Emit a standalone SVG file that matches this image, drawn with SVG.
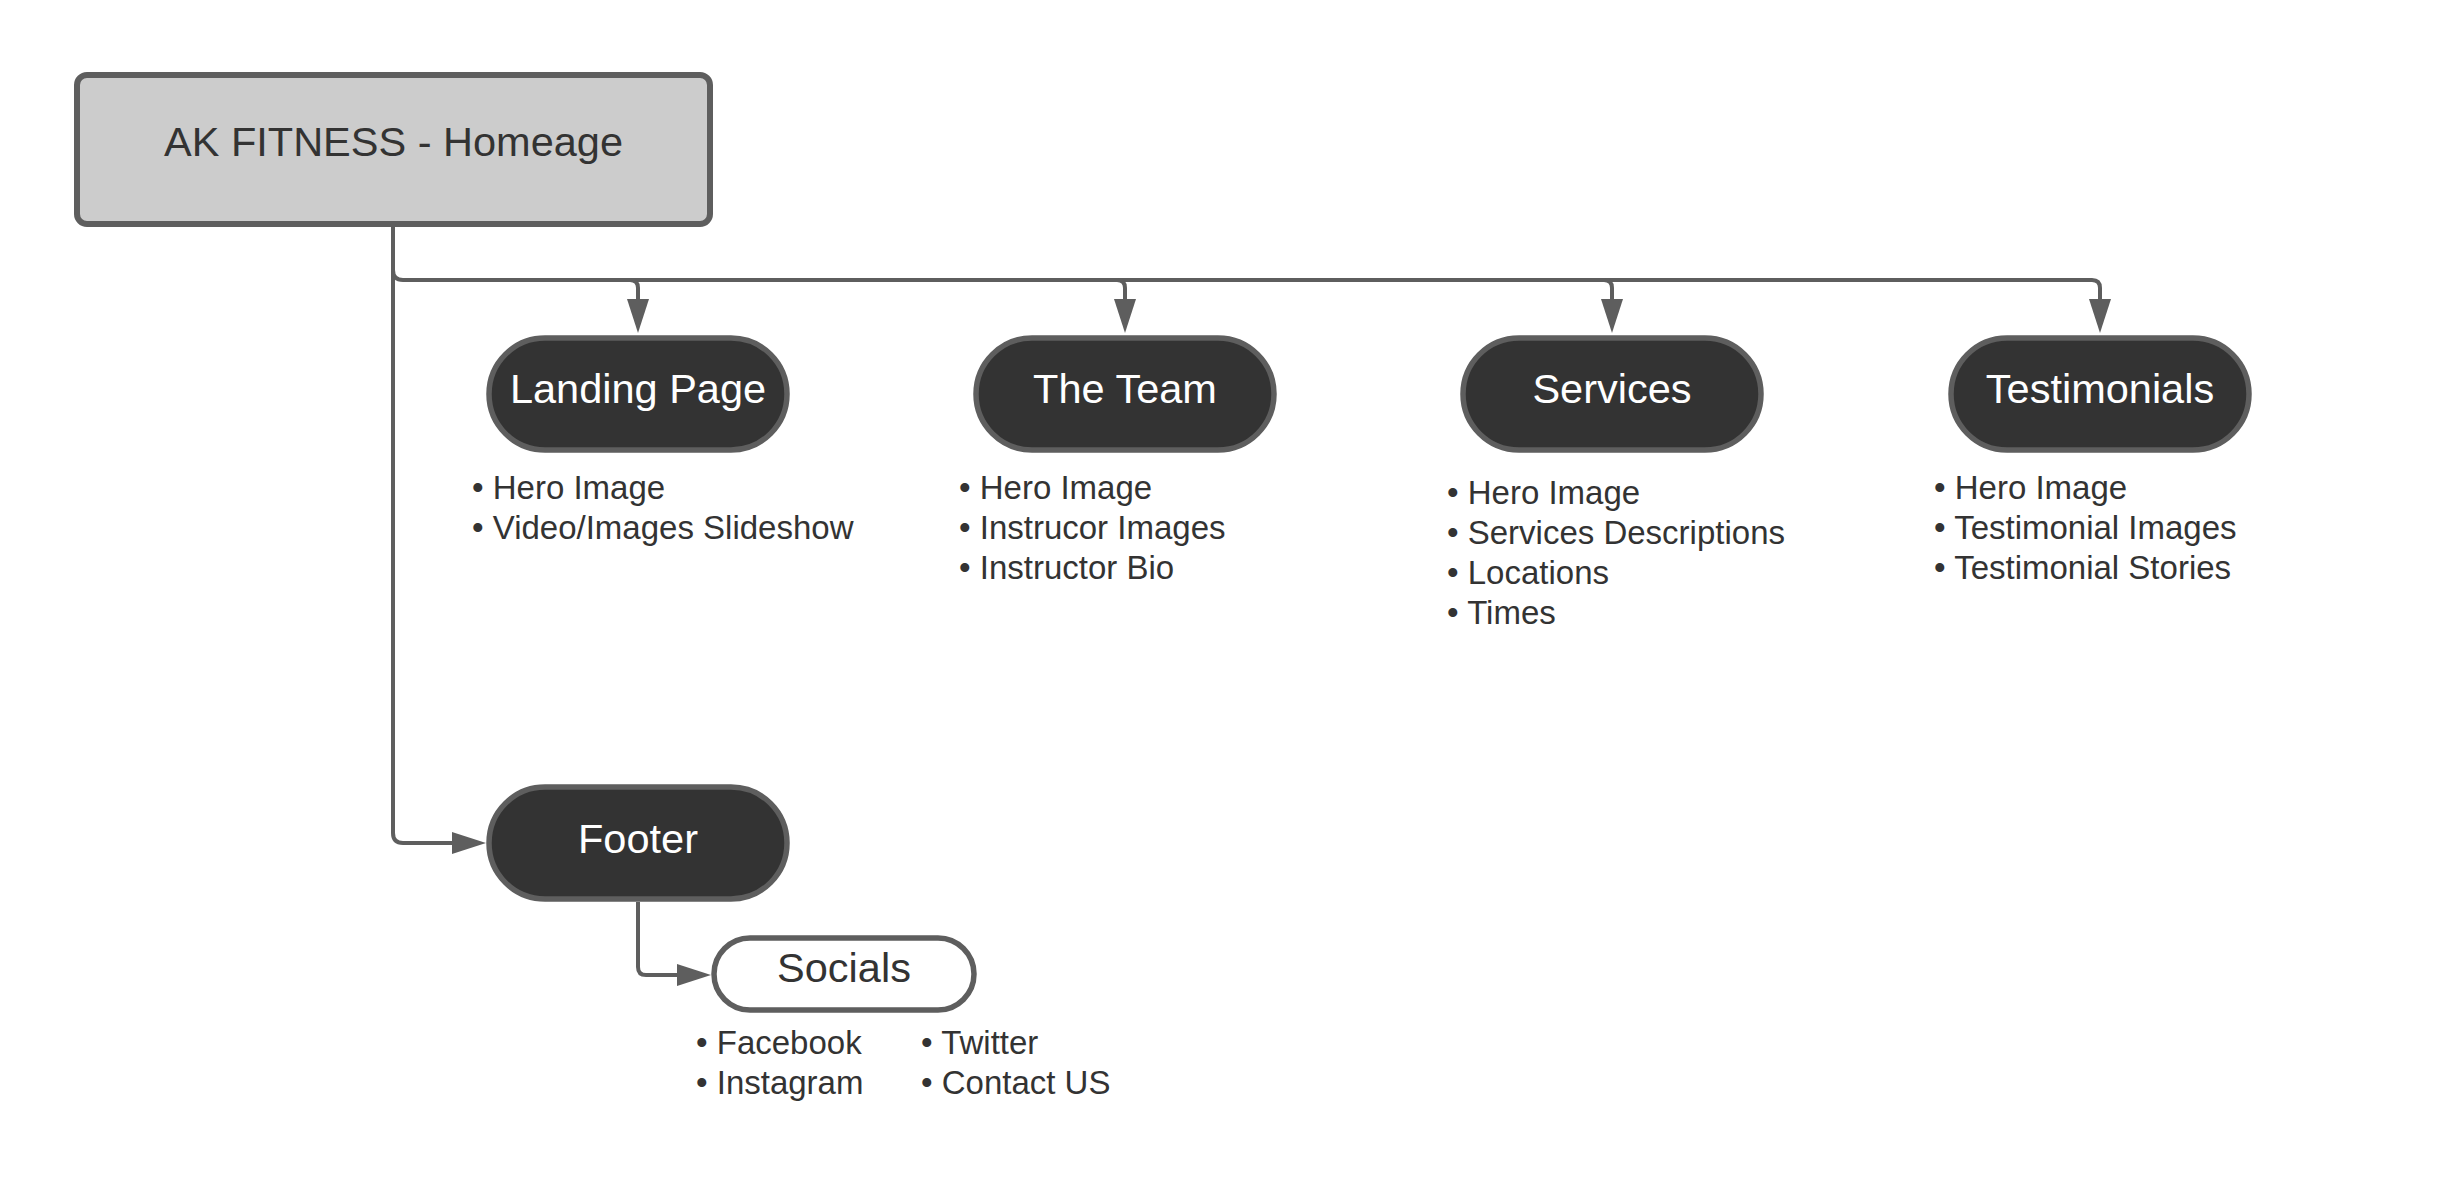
<svg xmlns="http://www.w3.org/2000/svg" width="2438" height="1200" viewBox="0 0 2438 1200">
<style>
.pill{fill:#333333;stroke:#5e5e5e;stroke-width:5.5}
.pill-w{fill:#ffffff;stroke:#5e5e5e;stroke-width:5.5}
.box{fill:#cccccc;stroke:#5e5e5e;stroke-width:6}
.lbl{font-family:"Liberation Sans",Arial,sans-serif;font-size:41.5px;text-anchor:middle;fill:#ffffff}
.lbl-d{font-family:"Liberation Sans",Arial,sans-serif;font-size:41.5px;text-anchor:middle;fill:#333333}
.li{font-family:"Liberation Sans",Arial,sans-serif;font-size:33px;fill:#333333}
.conn{fill:none;stroke:#5e5e5e;stroke-width:4}
</style>
<defs>
<marker id="arr" markerUnits="userSpaceOnUse" markerWidth="36" markerHeight="24" refX="1" refY="11" orient="auto">
<path d="M0,0 L34,11 L0,22 z" fill="#5e5e5e"/>
</marker>
</defs>
<rect width="2438" height="1200" fill="#ffffff"/>
<g id="connectors">
<path class="conn" d="M393,227 V833 Q393,843 403,843 H453" marker-end="url(#arr)"/>
<path class="conn" d="M393,270 Q393,280 403,280 H2092 Q2100,280 2100,288 V300" marker-end="url(#arr)"/>
<path class="conn" d="M630,280 Q638,280 638,288 V300" marker-end="url(#arr)"/>
<path class="conn" d="M1117,280 Q1125,280 1125,288 V300" marker-end="url(#arr)"/>
<path class="conn" d="M1604,280 Q1612,280 1612,288 V300" marker-end="url(#arr)"/>
<path class="conn" d="M638,902 V967 Q638,975 646,975 H678" marker-end="url(#arr)"/>
</g>
<g id="homepage">
<rect class="box" x="77" y="75" width="633" height="149" rx="10"/>
<text class="lbl-d" x="393.5" y="156">AK FITNESS - Homeage</text>
</g>
<g id="landing-page">
<rect class="pill" x="489" y="338" width="298" height="112" rx="56"/>
<text class="lbl" x="638" y="403">Landing Page</text>
<text class="li" x="472" y="499" xml:space="preserve">• Hero Image</text>
<text class="li" x="472" y="539" xml:space="preserve">• Video/Images Slideshow</text>
</g>
<g id="the-team">
<rect class="pill" x="976" y="338" width="298" height="112" rx="56"/>
<text class="lbl" x="1125" y="403">The Team</text>
<text class="li" x="959" y="499" xml:space="preserve">• Hero Image</text>
<text class="li" x="959" y="539" xml:space="preserve">• Instrucor Images</text>
<text class="li" x="959" y="579" xml:space="preserve">• Instructor Bio</text>
</g>
<g id="services">
<rect class="pill" x="1463" y="338" width="298" height="112" rx="56"/>
<text class="lbl" x="1612" y="403">Services</text>
<text class="li" x="1447" y="504" xml:space="preserve">• Hero Image</text>
<text class="li" x="1447" y="544" xml:space="preserve">• Services Descriptions</text>
<text class="li" x="1447" y="584" xml:space="preserve">• Locations</text>
<text class="li" x="1447" y="624" xml:space="preserve">• Times</text>
</g>
<g id="testimonials">
<rect class="pill" x="1951" y="338" width="298" height="112" rx="56"/>
<text class="lbl" x="2100" y="403">Testimonials</text>
<text class="li" x="1934" y="499" xml:space="preserve">• Hero Image</text>
<text class="li" x="1934" y="539" xml:space="preserve">• Testimonial Images</text>
<text class="li" x="1934" y="579" xml:space="preserve">• Testimonial Stories</text>
</g>
<g id="footer">
<rect class="pill" x="489" y="787" width="298" height="112" rx="56"/>
<text class="lbl" x="638" y="853">Footer</text>
</g>
<g id="socials">
<rect class="pill-w" x="714" y="938" width="260" height="72" rx="36"/>
<text class="lbl-d" x="844" y="982">Socials</text>
<text class="li" x="696" y="1054" xml:space="preserve">• Facebook</text>
<text class="li" x="696" y="1094" xml:space="preserve">• Instagram</text>
<text class="li" x="921" y="1054" xml:space="preserve">• Twitter</text>
<text class="li" x="921" y="1094" xml:space="preserve">• Contact US</text>
</g>
</svg>
